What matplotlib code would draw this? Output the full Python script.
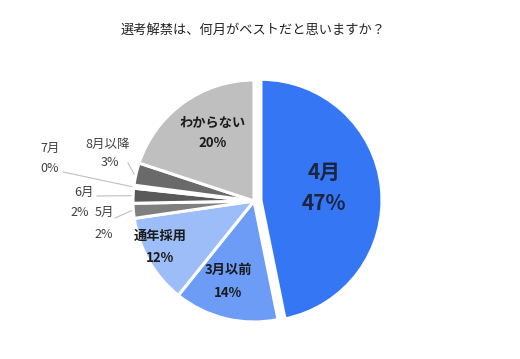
import numpy as np
import matplotlib
matplotlib.use("Agg")
import matplotlib.pyplot as plt

plt.rcParams['font.family'] = ['Noto Sans CJK JP', 'DejaVu Sans']

# data (clockwise from 12 o'clock)
labels = ["4月", "3月以前", "通年採用", "5月", "6月", "7月", "8月以降", "わからない"]
values = [47, 14, 12, 2, 2, 0.4, 3, 20]
pct_text = ["47%", "14%", "12%", "2%", "2%", "0%", "3%", "20%"]
colors = ["#3576F4", "#6C9CF6", "#9DBDF8", "#7F7F7F", "#595959", "#404040",
          "#6A6A6A", "#BFBFBF"]

W, H = 520, 359
fig = plt.figure(figsize=(W / 100, H / 100), dpi=100)
ax = fig.add_axes([0, 0, 1, 1])

cx, cy, r = 254, H - 201, 121
# explode is in data units here (pixels), only the 4月 slice is pulled out
explode = [7, 0, 0, 0, 0, 0, 0, 0]
wedges, _ = ax.pie(values, colors=colors, explode=explode, startangle=90,
                   counterclock=False, center=(cx, cy), radius=r,
                   wedgeprops=dict(edgecolor="white", linewidth=2.2),
                   frame=True)
ax.set_xlim(0, W)
ax.set_ylim(0, H)
ax.axis("off")

ax.text(253, H - 30, "選考解禁は、何月がベストだと思いますか？", ha="center",
        va="center", fontsize=9.5, color="#222222")

# labels inside the big slices
inside = {0: (324, 172, 203, 15, "#1C2540"),
          7: (213, 123, 143, 9.5, "#1a1a1a"),
          2: (160, 236, 258, 9.5, "#1a1a1a"),
          1: (228, 270, 293, 9.5, "#1a1a1a")}
for i, (x, y1, y2, fs, c) in inside.items():
    ax.text(x, H - y1, labels[i], ha="center", va="center", fontsize=fs,
            fontweight="bold", color=c)
    ax.text(x, H - y2, pct_text[i], ha="center", va="center", fontsize=fs,
            fontweight="bold", color=c)

# small slices labelled outside with leader lines
outside = {6: ((108, 144), (110, 163), (128, 163)),
           5: ((50, 148), (50, 168), (63, 172)),
           4: ((84, 192), (80, 212), (97, 196)),
           3: ((104, 212), (104, 234), (115, 218))}
for i, (p1, p2, lstart) in outside.items():
    w = wedges[i]
    ang = np.deg2rad((w.theta1 + w.theta2) / 2)
    ex = cx + r * np.cos(ang)
    ey = cy + r * np.sin(ang)
    ax.plot([lstart[0], ex - 2], [H - lstart[1], ey], color="#BFBFBF", lw=0.8)
    ax.text(p1[0], H - p1[1], labels[i], ha="center", va="center",
            fontsize=9, color="#404040")
    ax.text(p2[0], H - p2[1], pct_text[i], ha="center", va="center",
            fontsize=9, color="#404040")

fig.savefig("out.png", dpi=100, facecolor="white")
